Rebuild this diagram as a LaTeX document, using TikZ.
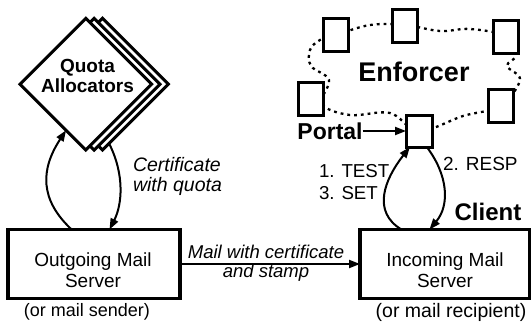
\documentclass[tikz,border=0pt]{standalone}
\usepackage{fontspec}
\setmainfont{Liberation Sans}
\usetikzlibrary{arrows.meta,shapes.geometric,calc}
\begin{document}
\begin{tikzpicture}[x=1pt,y=-1pt,
  dia/.style={shape=diamond,draw,fill=white,line width=3pt,minimum width=131.7pt,minimum height=131.7pt,inner sep=0pt,outer sep=0pt},
  srv/.style={draw,fill=white,line width=3.5pt,minimum height=69pt,inner sep=0pt,outer sep=0pt},
  peer/.style={draw,fill=white,line width=3pt,minimum width=25pt,minimum height=33pt,inner sep=0pt,outer sep=0pt},
  conn/.style={line width=2pt,-{Triangle[length=11pt,width=8pt]}},
  cloudline/.style={line width=2.3pt,dash pattern=on 2.8pt off 4pt},
  txt/.style={inner sep=0pt,outer sep=0pt,align=center},
]
\useasboundingbox (0,0) rectangle (531,322);
% quota allocators
\node[dia] (q3) at (102.5,84.2) {};
\node[dia] (q2) at (94.1,84.2) {};
\node[dia] (q1) at (85.8,84.2) {};
\node[txt,font=\bfseries\fontsize{19}{20.6}\selectfont] (qtext) at (87.5,76) {Quota\\Allocators};
% servers
\node[srv,minimum width=172pt] (out) at (94,264) {};
\node[txt,font=\fontsize{19}{21}\selectfont] (outtext) at (93,270.6) {Outgoing Mail\\Server};
\node[srv,minimum width=169.5pt] (in) at (444.75,264) {};
\node[txt,font=\fontsize{19}{21}\selectfont] (intext) at (445,270.6) {Incoming Mail\\Server};
\node[txt,font=\fontsize{18}{20}\selectfont] (cap1) at (87,312) {(or mail sender)};
\node[txt,font=\fontsize{19.5}{22}\selectfont] (cap2) at (451,312) {(or mail recipient)};
% mail arrow
\draw[conn] (out.east) -- (in.west);
\node[txt,font=\itshape\fontsize{18.5}{19.5}\selectfont] (mailtext) at (266,263) {Mail with certificate\\and stamp};
% quota arrows
\draw[conn] ($(out.north west)!0.37!(out.north east)$) .. controls (40,200) and (40,170) .. ($(q1.south)!0.3!(q1.west)$);
\draw[conn] ($(q3.south)!0.1!(q3.east)$) .. controls (125,175) and (122,205) .. ($(out.north west)!0.59!(out.north east)$);
\node[txt,anchor=west,align=left,font=\itshape\fontsize{19.5}{20}\selectfont] (cert) at (133,176) {Certificate\\with quota};
% enforcer
\draw[cloudline] plot[smooth cycle,tension=0.6] coordinates {(336,35) (370,25) (405,25) (440,31) (470,29) (505,36) (516,55) (507,66) (520,80) (500,106) (463,116) (419,131) (390,113) (350,115) (322,104) (329,80) (311,66) (310,50) (320,40)};
\node[peer] (e1) at (335.5,35) {};
\node[peer] (e2) at (405,25.5) {};
\node[peer] (e3) at (505.5,36.5) {};
\node[peer] (e4) at (310.5,99) {};
\node[peer] (e5) at (500.5,106) {};
\node[peer,minimum width=26pt,minimum height=32pt] (portal) at (419,131) {};
\node[txt,font=\bfseries\fontsize{27}{27}\selectfont] (enf) at (414,71.5) {Enforcer};
\node[txt,font=\bfseries\fontsize{23}{23}\selectfont] (plabel) at (330,131) {Portal};
\draw[conn] (plabel.east) -- (portal.west);
% portal arrows
\draw[conn] ($(in.north west)!0.245!(in.north east)$) .. controls (372,212) and (384,180) .. ($(portal.south west)!0.15!(portal.south east)$);
\draw[conn] ($(portal.south west)!0.8!(portal.south east)$) .. controls (448,175) and (450,205) .. ($(in.north west)!0.41!(in.north east)$);
\node[txt,anchor=west,align=left,font=\fontsize{18.7}{21.7}\selectfont] (l13) at (319,182.4) {1. TEST\\3. SET};
\node[txt,anchor=west,font=\fontsize{19}{19}\selectfont] (l2) at (443,163.5) {2. RESP};
\node[txt,font=\bfseries\fontsize{24}{24}\selectfont] (client) at (488,211.7) {Client};
\end{tikzpicture}
\end{document}
